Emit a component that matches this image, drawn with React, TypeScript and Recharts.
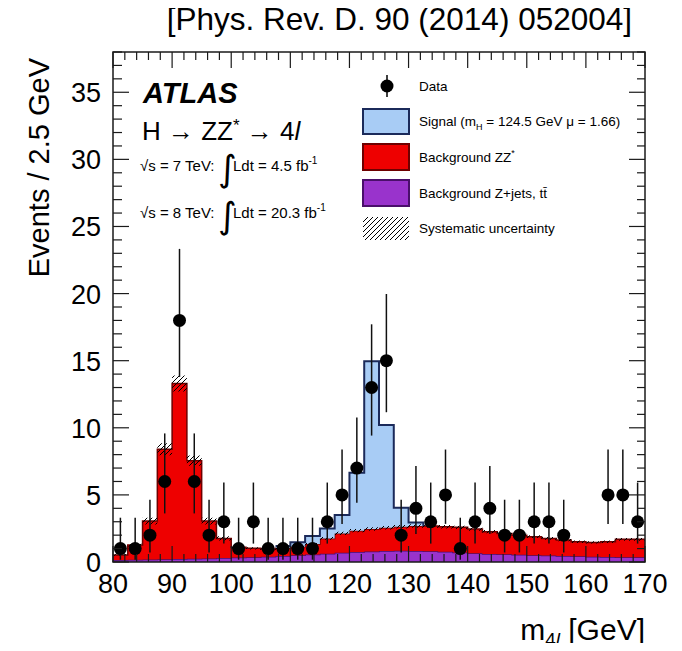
import { ComposedChart, Area, Line, Scatter, ErrorBar, XAxis, YAxis } from 'recharts';

// bin edges, 2.5 GeV wide
const edges = [80, 82.5, 85, 87.5, 90, 92.5, 95, 97.5, 100, 102.5, 105, 107.5, 110, 112.5, 115, 117.5, 120, 122.5, 125, 127.5, 130, 132.5, 135, 137.5, 140, 142.5, 145, 147.5, 150, 152.5, 155, 157.5, 160, 162.5, 165, 167.5, 170];

// observed events per bin
const dataCounts = [1, 1, 2, 6, 18, 6, 2, 3, 1, 3, 1, 1, 1, 1, 3, 5, 7, 13, 15, 2, 4, 3, 5, 1, 3, 4, 2, 2, 3, 3, 2, 0, 0, 5, 5, 3];

// expectations per bin
const zjets = [0.15, 0.17, 0.18, 0.2, 0.22, 0.24, 0.27, 0.3, 0.33, 0.36, 0.4, 0.44, 0.5, 0.55, 0.62, 0.68, 0.74, 0.78, 0.82, 0.84, 0.82, 0.8, 0.76, 0.7, 0.65, 0.6, 0.57, 0.54, 0.5, 0.48, 0.45, 0.42, 0.4, 0.38, 0.36, 0.35];
const zz = [0.37, 1.09, 2.87, 8.2, 13.08, 7.31, 2.78, 1.46, 0.76, 0.66, 0.55, 0.61, 0.64, 0.79, 1.14, 1.45, 1.59, 1.68, 1.74, 1.79, 1.86, 1.88, 1.87, 1.88, 1.8, 1.66, 1.56, 1.46, 1.39, 1.28, 1.19, 1.09, 1.06, 1.13, 1.33, 1.34];
const signal = [0, 0, 0, 0, 0, 0, 0, 0, 0, 0, 0, 0.15, 0.33, 0.6, 0.74, 1.37, 4.32, 12.5, 7.64, 1.42, 0.27, 0, 0, 0, 0, 0, 0, 0, 0, 0, 0, 0, 0, 0, 0, 0];
const sysErr = [0.05, 0.1, 0.25, 0.45, 0.6, 0.38, 0.25, 0.15, 0.1, 0.08, 0.08, 0.08, 0.08, 0.08, 0.1, 0.12, 0.12, 0.13, 0.13, 0.13, 0.13, 0.13, 0.13, 0.13, 0.12, 0.12, 0.11, 0.1, 0.1, 0.1, 0.09, 0.09, 0.09, 0.09, 0.1, 0.1];

// 68% Poisson intervals (down, up) by count
const poissonDown = [0, 0.83, 1.29, 1.63, 1.91, 2.16, 2.38, 2.58, 2.77, 2.94, 3.11, 3.27, 3.42, 3.58, 3.72, 3.84, 3.98, 4.1, 4.21];
const poissonUp = [1.84, 2.3, 2.64, 2.92, 3.16, 3.38, 3.58, 3.77, 3.96, 4.13, 4.27, 4.42, 4.57, 4.71, 4.84, 4.97, 5.1, 5.22, 5.33];

const xMajor = [80, 90, 100, 110, 120, 130, 140, 150, 160, 170];
const yMajor = [0, 5, 10, 15, 20, 25, 30, 35];
const xTicks = Array.from({ length: 46 }, (_, i) => 80 + 2 * i);
const yTicks = Array.from({ length: 39 }, (_, i) => i);

const nBins = dataCounts.length;
const histRows = edges.map((x, k) => {
  const i = Math.min(k, nBins - 1);
  const bkg = zjets[i] + zz[i];
  return {
    x,
    zjets: zjets[i],
    zz: zz[i],
    sig: signal[i],
    sys: [bkg - sysErr[i], bkg + sysErr[i]],
    outline: k >= 11 && k <= 21 ? bkg + signal[i] : null,
  };
});

const points = dataCounts
  .map((n, i) => ({ x: (edges[i] + edges[i + 1]) / 2, n, err: [poissonDown[n], poissonUp[n]] }))
  .filter((p) => p.n > 0);

const FONT = '"Liberation Sans", Arial, Helvetica, sans-serif';
const INK = '#1a1a1a';

// plot frame in page pixels
const PL = 113, PR = 645, PT = 52, PB = 562;

const BottomTick = (props: any) => {
  const { x, payload } = props;
  const major = xMajor.includes(payload.value);
  return (
    <g>
      <line x1={x} x2={x} y1={PB} y2={PB - (major ? 16 : 8)} stroke={INK} strokeWidth={1.2} />
      {major && (
        <text x={x} y={PB + 31} textAnchor="middle" fontSize={27} fontFamily={FONT} fill="#000">
          {payload.value}
        </text>
      )}
    </g>
  );
};

const TopTick = (props: any) => {
  const { x, payload } = props;
  const major = xMajor.includes(payload.value);
  return <line x1={x} x2={x} y1={PT} y2={PT + (major ? 16 : 8)} stroke={INK} strokeWidth={1.2} />;
};

const LeftTick = (props: any) => {
  const { y, payload } = props;
  const major = yMajor.includes(payload.value);
  return (
    <g>
      <line x1={PL} x2={PL + (major ? 16 : 9)} y1={y} y2={y} stroke={INK} strokeWidth={1.2} />
      {major && (
        <text x={PL - 12} y={y + 10} textAnchor="end" fontSize={27} fontFamily={FONT} fill="#000">
          {payload.value}
        </text>
      )}
    </g>
  );
};

const RightTick = (props: any) => {
  const { y, payload } = props;
  const major = yMajor.includes(payload.value);
  return <line x1={PR} x2={PR - (major ? 16 : 8)} y1={y} y2={y} stroke={INK} strokeWidth={1.2} />;
};

const DataDot = (props: any) => <circle cx={props.cx} cy={props.cy} r={6.5} fill="#000" />;

function Overlay() {
  const t = { fontFamily: FONT, fill: '#000' };
  return (
    <svg width={682} height={651} style={{ position: 'absolute', left: 0, top: 0, pointerEvents: 'none' }}>
      <defs>
        <pattern id="hatchLegend" patternUnits="userSpaceOnUse" width={5} height={5}>
          <path d="M0,5 L5,0 M-1,1 L1,-1 M4,6 L6,4" stroke="#000" strokeWidth={1} />
        </pattern>
      </defs>
      <text x={632} y={30} textAnchor="end" fontSize={31.5} {...t}>[Phys. Rev. D. 90 (2014) 052004]</text>
      <text transform="translate(49,58) rotate(-90)" textAnchor="end" fontSize={29} {...t}>Events / 2.5 GeV</text>
      <text x={645} y={640} textAnchor="end" fontSize={30} {...t}>
        m<tspan fontSize={19} dy={6}>4</tspan><tspan fontSize={19} fontStyle="italic">l</tspan>
        <tspan dy={-6}> [GeV]</tspan>
      </text>

      <text x={143} y={103} fontSize={29} fontWeight="bold" fontStyle="italic" {...t}>ATLAS</text>
      <text x={142} y={140} fontSize={26} {...t}>
        H → ZZ<tspan dy={-9} fontSize={17}>*</tspan><tspan dy={9}> → 4</tspan><tspan fontStyle="italic">l</tspan>
      </text>
      <text x={140} y={171} fontSize={15} {...t}>√s = 7 TeV:</text>
      <text x={218} y={181} fontSize={36} fontFamily='"DejaVu Sans"' fill="#000">∫</text>
      <text x={233} y={171} fontSize={15} {...t}>Ldt = 4.5 fb<tspan dy={-7} fontSize={10}>-1</tspan></text>
      <text x={140} y={218} fontSize={15} {...t}>√s = 8 TeV:</text>
      <text x={218} y={228} fontSize={36} fontFamily='"DejaVu Sans"' fill="#000">∫</text>
      <text x={233} y={218} fontSize={15} {...t}>Ldt = 20.3 fb<tspan dy={-7} fontSize={10}>-1</tspan></text>

      {/* legend */}
      <line x1={387} x2={387} y1={75} y2={97} stroke="#000" strokeWidth={1.5} />
      <circle cx={387} cy={86} r={6.5} fill="#000" />
      <text x={419} y={91} fontSize={13.5} {...t}>Data</text>
      <rect x={363} y={109} width={46} height={25} fill="#a8ccf5" stroke="#1b2a5a" strokeWidth={2} />
      <text x={419} y={126} fontSize={13.5} {...t}>
        Signal (m<tspan fontSize={9} dy={4}>H</tspan><tspan dy={-4}> = 124.5 GeV μ = 1.66)</tspan>
      </text>
      <rect x={363} y={144} width={46} height={26} fill="#ee0000" stroke="#6e0000" strokeWidth={2} />
      <text x={419} y={162} fontSize={13.5} {...t}>
        Background ZZ<tspan fontSize={9} dy={-6}>*</tspan>
      </text>
      <rect x={363} y={180} width={46} height={26} fill="#9933cc" stroke="#4a0f6b" strokeWidth={2} />
      <text x={419} y={198} fontSize={13.5} {...t}>Background Z+jets, tt̄</text>
      <rect x={363} y={217} width={46} height={23} fill="url(#hatchLegend)" />
      <text x={419} y={233} fontSize={13.5} {...t}>Systematic uncertainty</text>
    </svg>
  );
}

export default function App() {
  return (
    <div style={{ position: 'relative', width: 682, height: 651, margin: -8, background: '#fff' }}>
      <ComposedChart
        width={682}
        height={651}
        data={histRows}
        margin={{ top: PT - 1, right: 682 - PR - 1, bottom: 651 - PB - 1, left: PL - 1 }}
      >
        <defs>
          <pattern id="hatch" patternUnits="userSpaceOnUse" width={5} height={5}>
            <path d="M0,5 L5,0 M-1,1 L1,-1 M4,6 L6,4" stroke="#000" strokeWidth={1} />
          </pattern>
        </defs>
        <XAxis
          dataKey="x"
          type="number"
          domain={[80, 170]}
          ticks={xTicks}
          interval={0}
          height={1}
          tickSize={0}
          tick={<BottomTick />}
          axisLine={false}
          allowDataOverflow
        />
        <XAxis
          xAxisId="top"
          orientation="top"
          dataKey="x"
          type="number"
          domain={[80, 170]}
          ticks={xTicks}
          interval={0}
          height={1}
          tickSize={0}
          tick={<TopTick />}
          axisLine={false}
          allowDataOverflow
        />
        <YAxis
          type="number"
          domain={[0, 38]}
          ticks={yTicks}
          interval={0}
          width={1}
          tickSize={0}
          tick={<LeftTick />}
          axisLine={false}
          allowDataOverflow
        />
        <YAxis
          yAxisId="right"
          orientation="right"
          type="number"
          domain={[0, 38]}
          ticks={yTicks}
          interval={0}
          width={1}
          tickSize={0}
          tick={<RightTick />}
          axisLine={false}
          allowDataOverflow
        />
        <Area type="stepAfter" dataKey="zjets" stackId="s" fill="#9933cc" fillOpacity={1} stroke="#4a0f6b" strokeWidth={1.5} isAnimationActive={false} />
        <Area type="stepAfter" dataKey="zz" stackId="s" fill="#ee0000" fillOpacity={1} stroke="#6e0000" strokeWidth={1.5} isAnimationActive={false} />
        <Area type="stepAfter" dataKey="sig" stackId="s" fill="#a8ccf5" fillOpacity={1} stroke="none" isAnimationActive={false} />
        <Area type="stepAfter" dataKey="sys" fill="url(#hatch)" fillOpacity={1} stroke="none" isAnimationActive={false} />
        <Line type="stepAfter" dataKey="outline" stroke="#1b2a5a" strokeWidth={2} dot={false} connectNulls={false} isAnimationActive={false} />
        <Scatter data={points} dataKey="n" shape={<DataDot />} isAnimationActive={false}>
          <ErrorBar dataKey="err" direction="y" width={0} stroke="#111" strokeWidth={1.5} isAnimationActive={false} />
        </Scatter>
      </ComposedChart>
      <Overlay />
      <svg width={682} height={651} style={{ position: 'absolute', left: 0, top: 0, pointerEvents: 'none' }}>
        <rect x={PL} y={PT} width={PR - PL} height={PB - PT} fill="none" stroke={INK} strokeWidth={1.5} />
      </svg>
    </div>
  );
}
